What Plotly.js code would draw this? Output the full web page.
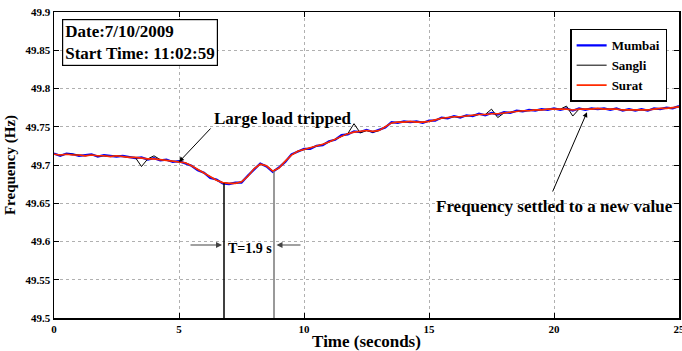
<!DOCTYPE html>
<html>
<head>
<meta charset="utf-8">
<script src="https://cdn.plot.ly/plotly-3.0.1.min.js"></script>
<style>html,body{margin:0;padding:0;background:#fff;}#chart{width:682px;height:351px;}</style>
</head>
<body>
<div id="chart"></div>
<script>
const timeSec = [
0,0.25,0.5,0.75,1,1.25,1.5,1.75,2,2.25,
2.5,2.75,3,3.25,3.5,3.75,4,4.25,4.5,4.75,
5,5.25,5.5,5.75,6,6.25,6.5,6.75,7,7.25,
7.5,7.75,8,8.25,8.5,8.75,9,9.25,9.5,9.75,
10,10.25,10.5,10.75,11,11.25,11.5,11.75,12,12.25,
12.5,12.75,13,13.25,13.5,13.75,14,14.25,14.5,14.75,
15,15.25,15.5,15.75,16,16.25,16.5,16.75,17,17.25,
17.5,17.75,18,18.25,18.5,18.75,19,19.25,19.5,19.75,
20,20.25,20.5,20.75,21,21.25,21.5,21.75,22,22.25,
22.5,22.75,23,23.25,23.5,23.75,24,24.25,24.5,24.75,
25];

const mumbai = [
49.715,49.712,49.715,49.714,49.712,49.713,49.714,49.711,49.713,49.712,
49.711,49.712,49.711,49.709,49.710,49.707,49.709,49.706,49.707,49.704,
49.705,49.702,49.699,49.693,49.690,49.683,49.681,49.676,49.675,49.677,
49.677,49.686,49.694,49.702,49.698,49.691,49.697,49.704,49.714,49.717,
49.721,49.721,49.725,49.726,49.731,49.733,49.739,49.740,49.744,49.743,
49.746,49.743,49.746,49.749,49.756,49.755,49.757,49.756,49.757,49.755,
49.758,49.758,49.762,49.761,49.764,49.762,49.765,49.764,49.767,49.765,
49.768,49.766,49.769,49.768,49.771,49.770,49.772,49.771,49.773,49.772,
49.774,49.772,49.774,49.771,49.774,49.772,49.774,49.773,49.774,49.772,
49.774,49.771,49.773,49.771,49.773,49.771,49.774,49.773,49.775,49.774,
49.777];

const sangli = [
49.714,49.713,49.714,49.714,49.713,49.712,49.713,49.712,49.712,49.711,
49.712,49.711,49.710,49.710,49.698,49.708,49.712,49.707,49.706,49.705,
49.704,49.703,49.699,49.694,49.689,49.684,49.680,49.677,49.676,49.676,
49.678,49.685,49.695,49.701,49.699,49.692,49.696,49.705,49.713,49.718,
49.720,49.722,49.724,49.727,49.730,49.734,49.738,49.741,49.754,49.742,
49.745,49.743,49.745,49.750,49.755,49.756,49.756,49.757,49.756,49.756,
49.757,49.759,49.761,49.762,49.763,49.763,49.764,49.765,49.766,49.766,
49.773,49.762,49.768,49.769,49.770,49.771,49.771,49.772,49.772,49.773,
49.773,49.773,49.777,49.764,49.773,49.773,49.773,49.774,49.773,49.773,
49.773,49.772,49.772,49.772,49.772,49.772,49.773,49.774,49.774,49.775,
49.776];

const surat = [
49.714,49.713,49.714,49.713,49.713,49.712,49.713,49.712,49.712,49.711,
49.712,49.711,49.710,49.710,49.709,49.708,49.708,49.707,49.706,49.705,
49.704,49.703,49.699,49.694,49.689,49.684,49.680,49.677,49.676,49.676,
49.678,49.685,49.695,49.701,49.699,49.692,49.696,49.705,49.713,49.718,
49.720,49.722,49.724,49.727,49.730,49.734,49.738,49.741,49.743,49.744,
49.745,49.744,49.745,49.750,49.755,49.756,49.756,49.757,49.756,49.756,
49.757,49.759,49.761,49.762,49.763,49.763,49.764,49.765,49.766,49.766,
49.767,49.767,49.768,49.769,49.770,49.771,49.771,49.772,49.772,49.773,
49.773,49.773,49.773,49.772,49.773,49.773,49.773,49.774,49.773,49.773,
49.773,49.772,49.772,49.772,49.772,49.772,49.773,49.774,49.774,49.775,
49.776];

const seriesNames = ['Mumbai','Sangli','Surat'];
const xTickVals = [0,5,10,15,20,25];
const xTickText = ['0','5','10','15','20','25'];
const yTickVals = [49.5,49.55,49.6,49.65,49.7,49.75,49.8,49.85,49.9];
const yTickText = ['49.5','49.55','49.6','49.65','49.7','49.75','49.8','49.85','49.9'];

// event markers (seconds, Hz)
const tripTime = 6.8, tripFreq = 49.676;
const recoverTime = 8.8, recoverFreq = 49.692;

const serif = '"Liberation Serif", serif';

function f(size) { return {family: serif, size: size, color: '#000', weight: 'bold'}; }

const traces = [
  {x: timeSec, y: mumbai, name: seriesNames[0], mode: 'lines', line: {color: '#0000ff', width: 2.2}},
  {x: timeSec, y: sangli, name: seriesNames[1], mode: 'lines', line: {color: '#000000', width: 1}},
  {x: timeSec, y: surat, name: seriesNames[2], mode: 'lines', line: {color: '#ff2a00', width: 1.6}}
];

const axisCommon = {
  showline: true, linecolor: '#000', linewidth: 1.5, mirror: 'allticks',
  ticks: 'inside', ticklen: 5, tickcolor: '#000', tickwidth: 1,
  showgrid: true, gridcolor: '#b0b0b0', griddash: 'dot', gridwidth: 1,
  zeroline: false, tickfont: f(11)
};

const layout = {
  width: 682, height: 351,
  margin: {l: 54, r: 3, t: 12, b: 33},
  paper_bgcolor: '#fff', plot_bgcolor: '#fff',
  font: f(12),
  showlegend: true,
  legend: {x: 0.981, y: 0.945, xanchor: 'right', yanchor: 'top',
    bordercolor: '#000', borderwidth: 1.5, bgcolor: '#fff',
    font: f(13), tracegroupgap: 0, itemwidth: 30},
  xaxis: Object.assign({}, axisCommon, {
    range: [0, 25], tickvals: xTickVals, ticktext: xTickText, ticklabeloverflow: 'allow',
    title: {text: 'Time (seconds)', font: f(17), standoff: 1}
  }),
  yaxis: Object.assign({}, axisCommon, {
    range: [49.5, 49.9], tickvals: yTickVals, ticktext: yTickText,
    title: {text: 'Frequency (Hz)', font: f(15), standoff: 6}
  }),
  shapes: [
    {type: 'line', xref: 'x', yref: 'y', x0: tripTime, x1: tripTime, y0: tripFreq, y1: 49.5, line: {color: '#000', width: 1.5}},
    {type: 'line', xref: 'x', yref: 'y', x0: recoverTime, x1: recoverTime, y0: recoverFreq, y1: 49.5, line: {color: '#777', width: 1.5}}
  ],
  annotations: [
    {xref: 'paper', yref: 'paper', x: 0.0128, y: 0.977, xanchor: 'left', yanchor: 'top', align: 'left',
      text: 'Date:7/10/2009<br>Start Time: 11:02:59', showarrow: false,
      bordercolor: '#000', borderwidth: 1.2, borderpad: 2, bgcolor: '#fff', font: f(17)},
    {xref: 'x', yref: 'y', x: 6.3, y: 49.7614, xanchor: 'left', yanchor: 'middle', showarrow: false,
      text: 'Large load tripped', font: f(17)},
    {xref: 'x', yref: 'y', axref: 'x', ayref: 'y', x: 5.0, y: 49.704, ax: 6.32, ay: 49.7497, text: '',
      showarrow: true, arrowhead: 2, arrowsize: 1, arrowwidth: 1, arrowcolor: '#000'},
    {xref: 'x', yref: 'y', x: 15.2, y: 49.646, xanchor: 'left', yanchor: 'middle', showarrow: false,
      text: 'Frequency settled to a new value', font: f(17)},
    {xref: 'x', yref: 'y', axref: 'x', ayref: 'y', x: 21.32, y: 49.769, ax: 19.92, ay: 49.6634, text: '',
      showarrow: true, arrowhead: 2, arrowsize: 1, arrowwidth: 1, arrowcolor: '#000'},
    {xref: 'x', yref: 'y', x: 7.84, y: 49.5905, xanchor: 'center', yanchor: 'middle', showarrow: false,
      text: 'T=1.9 s', font: f(14)},
    {xref: 'x', yref: 'y', axref: 'x', ayref: 'y', x: 6.72, y: 49.5954, ax: 5.4, ay: 49.5954, text: '',
      showarrow: true, arrowhead: 2, arrowsize: 1, arrowwidth: 1.2, arrowcolor: '#444'},
    {xref: 'x', yref: 'y', axref: 'x', ayref: 'y', x: 8.9, y: 49.5954, ax: 9.92, ay: 49.5954, text: '',
      showarrow: true, arrowhead: 2, arrowsize: 1, arrowwidth: 1.2, arrowcolor: '#444'}
  ]
};

Plotly.newPlot('chart', traces, layout, {displayModeBar: false, staticPlot: true});
</script>
</body>
</html>
